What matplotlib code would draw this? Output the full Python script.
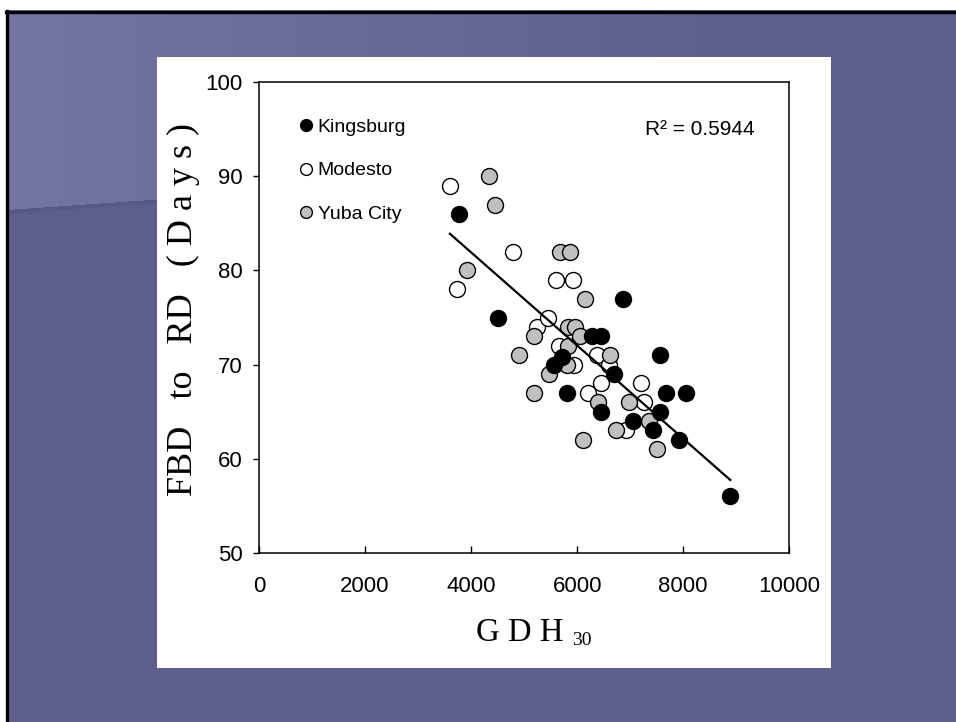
import matplotlib
matplotlib.use('Agg')
import matplotlib.pyplot as plt
from matplotlib.lines import Line2D
from matplotlib.patches import Rectangle
import numpy as np

plt.rcParams['font.family'] = ['Liberation Sans', 'DejaVu Sans']

# data (GDH30, days from FBD to RD)
kingsburg_x = [3780, 4509, 5560, 5720, 5805, 6280, 6440, 6685, 6862, 6453,
               7050, 7428, 7553, 7553, 7679, 8057, 7912, 8887]
kingsburg_y = [86, 75, 70, 70.8, 67, 73, 73, 69, 77, 65,
               64, 63, 71, 65, 67, 67, 62, 56]
modesto_x = [3600, 3730, 4786, 5251, 5459, 5604, 5912, 5650, 5943, 6371,
             6591, 6453, 7201, 6200, 7260, 6925]
modesto_y = [89, 78, 82, 74, 75, 79, 79, 72, 70, 71,
             70, 68, 68, 67, 66, 63]
yuba_x = [4345, 4453, 3918, 4912, 5189, 5189, 5477, 5679, 5868, 6151, 5836,
          5962, 6044, 5836, 6623, 5817, 6402, 6968, 7346, 6736, 6119, 7503]
yuba_y = [90, 87, 80, 71, 73, 67, 69, 82, 82, 77, 74,
          74, 73, 72, 71, 70, 66, 66, 64, 63, 62, 61]
sites = ['Kingsburg', 'Modesto', 'Yuba City']
r2_text = 'R\u00b2 = 0.5944'

W, H = 956, 722
fig = plt.figure(figsize=(W / 100, H / 100), dpi=100)

# slide background
bg = fig.add_axes([0, 0, 1, 1])
yy, xx = np.mgrid[0:H, 0:W]
base = np.array([94, 94, 140]) / 255.0
light = np.array([117, 117, 163]) / 255.0
f = np.clip(1 - xx / 760.0, 0, 1) * (yy < 212 - 0.07 * xx)
img = base[None, None, :] + f[:, :, None] * (light - base)[None, None, :]
edge = np.abs(yy - (212 - 0.07 * xx)) < 2
img[edge & (xx < 160)] = np.array([88, 88, 132]) / 255.0
img[:10, :] = 1.0
img[:, :6] = 1.0
bg.imshow(img, extent=[0, W, H, 0], aspect='auto', interpolation='nearest')
bg.plot([7, 7], [11, H], color='black', lw=2.4)
bg.plot([6, W], [12, 12], color='black', lw=2.4)
bg.add_patch(Rectangle((157, 57), 674, 611, facecolor='white', edgecolor='none'))
bg.set_xlim(0, W)
bg.set_ylim(H, 0)
bg.axis('off')

ax = fig.add_axes([259 / W, 1 - 552.7 / H, 530.3 / W, 470.4 / H])
ax.set_facecolor('white')
ms = 11.5
ax.plot(modesto_x, modesto_y, 'o', ms=ms, mfc='white', mec='black', mew=1.0, zorder=3)
ax.plot(yuba_x, yuba_y, 'o', ms=ms, mfc='#c0c0c0', mec='black', mew=1.0, zorder=3)
ax.plot(kingsburg_x, kingsburg_y, 'o', ms=ms, mfc='black', mec='black', mew=1.0, zorder=3)

# regression over all sites
all_x = np.array(kingsburg_x + modesto_x + yuba_x, dtype=float)
all_y = np.array(kingsburg_y + modesto_y + yuba_y, dtype=float)
b, a = np.polyfit(all_x, all_y, 1)
lx = np.array([all_x.min(), all_x.max()])
ax.plot(lx, a + b * lx, color='black', lw=1.6, zorder=4)

ax.set_xlim(0, 10000)
ax.set_ylim(50, 100)
ax.set_xticks([0, 2000, 4000, 6000, 8000, 10000])
ax.set_yticks([50, 60, 70, 80, 90, 100])
ax.tick_params(axis='x', direction='in', length=5, width=1, pad=17, labelsize=16)
ax.tick_params(axis='y', direction='out', length=4, width=1, pad=8, labelsize=16)
for s in ax.spines.values():
    s.set_linewidth(1.1)

handles = [Line2D([], [], ls='none', marker='o', ms=8.5, mfc=c, mec='black', mew=1.0)
           for c in ['black', 'white', '#c0c0c0']]
ax.legend(handles, sites, loc='upper left', bbox_to_anchor=(0.063, 0.94),
          frameon=False, fontsize=14, handlelength=0.6, handletextpad=0.3,
          labelspacing=1.33, borderaxespad=0)

fig.text(645 / W, 1 - 135 / H, r2_text, fontsize=15, ha='left', va='baseline')

serif = ['Liberation Serif', 'DejaVu Serif']
fig.text(183 / W, 1 - 310 / H, 'FBD   to   RD   ( D a y s )', rotation=90,
         fontsize=26, family=serif, ha='center', va='center')
fig.text(476 / W, 1 - 641 / H, 'G D H', fontsize=23.6, family=serif,
         ha='left', va='baseline')
fig.text(572 / W, 1 - 645 / H, '30', fontsize=14, family=serif,
         ha='left', va='baseline')

fig.savefig('out.png', dpi=100)
